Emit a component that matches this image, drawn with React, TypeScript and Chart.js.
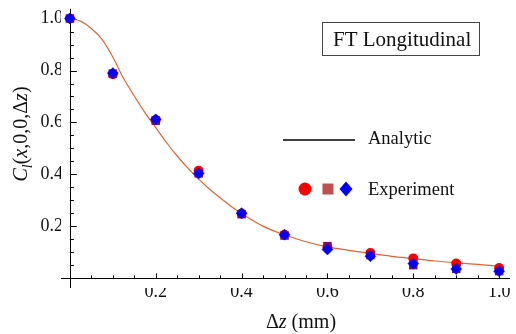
import React, { useEffect, useRef } from "react";
import { Chart, registerables } from "chart.js";

Chart.register(...registerables);

// ---- data ----
const analyticZ = [0, 0.025, 0.05, 0.075, 0.1, 0.125, 0.15, 0.175, 0.2, 0.225, 0.25, 0.275, 0.3, 0.325, 0.35, 0.375, 0.4, 0.45, 0.5, 0.55, 0.6, 0.65, 0.7, 0.75, 0.8, 0.85, 0.9, 0.95, 1.0];
const analyticC = [1.0, 0.99, 0.962, 0.92, 0.852, 0.77, 0.702, 0.638, 0.58, 0.523, 0.471, 0.424, 0.382, 0.344, 0.31, 0.278, 0.25, 0.201, 0.168, 0.141, 0.121, 0.108, 0.096, 0.085, 0.076, 0.067, 0.06, 0.054, 0.047];

const expZ = [0, 0.1, 0.2, 0.3, 0.4, 0.5, 0.6, 0.7, 0.8, 0.9, 1.0];
const expCircle = [1.0, 0.786, 0.61, 0.414, 0.25, 0.168, 0.12, 0.098, 0.077, 0.057, 0.04];
const expSquare = [1.0, 0.788, 0.607, 0.404, 0.247, 0.165, 0.124, 0.09, 0.051, 0.037, 0.028];
const expDiamond = [1.0, 0.79, 0.612, 0.404, 0.251, 0.168, 0.111, 0.085, 0.057, 0.036, 0.027];

const xTicks = [0.2, 0.4, 0.6, 0.8, 1.0];
const yTicks = [0.2, 0.4, 0.6, 0.8, 1.0];
const minorStep = 0.05;

const X_MIN = -0.0207;
const X_MAX = 1.0253;
const Y_MIN = -0.037;
const Y_MAX = 1.0375;

const SERIF = "'Liberation Serif', 'Times New Roman', serif";
const TEXT = "#111";

type Run = { t: string; italic?: boolean; sub?: boolean };

function drawRuns(ctx: CanvasRenderingContext2D, runs: Run[], size: number, cx: number, cy: number) {
  const fontFor = (r: Run) => `${r.italic ? "italic " : ""}${r.sub ? Math.round(size * 0.7) : size}px ${SERIF}`;
  let total = 0;
  const widths = runs.map((r) => {
    ctx.font = fontFor(r);
    const w = ctx.measureText(r.t).width;
    total += w;
    return w;
  });
  let x = cx - total / 2;
  ctx.textBaseline = "alphabetic";
  ctx.textAlign = "left";
  runs.forEach((r, i) => {
    ctx.font = fontFor(r);
    ctx.fillText(r.t, x, cy + (r.sub ? size * 0.25 : 0));
    x += widths[i];
  });
}

const decorPlugin = {
  id: "decor",
  beforeDatasetsDraw(chart: any) {
    const { ctx, chartArea, scales } = chart;
    const xs = scales.x;
    const ys = scales.y;
    const x0 = xs.getPixelForValue(0);
    const y0 = ys.getPixelForValue(0);
    ctx.save();
    ctx.strokeStyle = "#000";
    ctx.lineWidth = 1;
    ctx.beginPath();
    ctx.moveTo(Math.round(x0) + 0.5, chartArea.top);
    ctx.lineTo(Math.round(x0) + 0.5, chartArea.bottom);
    ctx.moveTo(chartArea.left, Math.round(y0) + 0.5);
    ctx.lineTo(chartArea.right, Math.round(y0) + 0.5);
    // ticks
    for (let i = 1; i <= 20; i++) {
      const v = i * minorStep;
      const major = i % 4 === 0;
      const py = Math.round(ys.getPixelForValue(v)) + 0.5;
      ctx.moveTo(x0, py);
      ctx.lineTo(x0 + (major ? 7 : 4), py);
      const px = Math.round(xs.getPixelForValue(v)) + 0.5;
      ctx.moveTo(px, y0);
      ctx.lineTo(px, y0 - (major ? 5 : 3));
    }
    ctx.stroke();
    ctx.restore();
  },
  afterDraw(chart: any) {
    const { ctx } = chart;
    ctx.save();
    ctx.fillStyle = TEXT;
    // y axis title (rotated)
    ctx.save();
    ctx.translate(20, 134);
    ctx.rotate(-Math.PI / 2);
    drawRuns(
      ctx,
      [
        { t: "C", italic: true },
        { t: "l", italic: true, sub: true },
        { t: "(" },
        { t: "x", italic: true },
        { t: ",0,0," },
        { t: "\u0394" },
        { t: "z", italic: true },
        { t: ")" },
      ],
      20,
      0,
      7
    );
    ctx.restore();
    // x axis title
    drawRuns(ctx, [{ t: "\u0394" }, { t: "z", italic: true }, { t: " (mm)" }], 20, 301, 328);

    // title box
    ctx.strokeStyle = "#444";
    ctx.lineWidth = 1;
    ctx.strokeRect(322.5, 22.5, 157, 33);
    ctx.font = `21px ${SERIF}`;
    ctx.textAlign = "left";
    ctx.textBaseline = "alphabetic";
    ctx.fillText("FT Longitudinal", 333, 46);

    // legend
    ctx.strokeStyle = "#000";
    ctx.lineWidth = 1.3;
    ctx.beginPath();
    ctx.moveTo(283, 140);
    ctx.lineTo(355, 140);
    ctx.stroke();
    ctx.font = `18.5px ${SERIF}`;
    ctx.fillText("Analytic", 368, 143.5);
    ctx.fillText("Experiment", 368, 194.5);

    ctx.fillStyle = "#ff0000";
    ctx.beginPath();
    ctx.arc(305, 189, 6.5, 0, Math.PI * 2);
    ctx.fill();
    ctx.fillStyle = "#c0504d";
    ctx.fillRect(322.5, 183.5, 11, 11);
    ctx.fillStyle = "#0000ff";
    ctx.beginPath();
    ctx.moveTo(346, 181.5);
    ctx.lineTo(352.5, 189);
    ctx.lineTo(346, 196.5);
    ctx.lineTo(339.5, 189);
    ctx.closePath();
    ctx.fill();
    ctx.restore();
  },
};

export default function App() {
  const ref = useRef<HTMLCanvasElement | null>(null);
  useEffect(() => {
    if (!ref.current) return;
    const chart = new Chart(ref.current, {
      type: "scatter",
      data: {
        datasets: [
          {
            type: "line",
            label: "Analytic",
            data: analyticZ.map((z, i) => ({ x: z, y: analyticC[i] })),
            borderColor: "#e8612c",
            borderWidth: 1.2,
            pointRadius: 0,
            tension: 0.4,
            cubicInterpolationMode: "monotone",
            fill: false,
            clip: false,
            order: 4,
          } as any,
          {
            label: "Exp circle",
            data: expZ.map((z, i) => ({ x: z, y: expCircle[i] })),
            pointStyle: "circle",
            pointRadius: 5,
            backgroundColor: "#ff0000",
            borderWidth: 0,
            clip: false,
            order: 3,
          },
          {
            label: "Exp square",
            data: expZ.map((z, i) => ({ x: z, y: expSquare[i] })),
            pointStyle: "rect",
            pointRadius: 6,
            backgroundColor: "#7a0a6e",
            borderWidth: 0,
            clip: false,
            order: 2,
          },
          {
            label: "Exp diamond",
            data: expZ.map((z, i) => ({ x: z, y: expDiamond[i] })),
            pointStyle: "rectRot",
            pointRadius: 5.5,
            backgroundColor: "#0000ff",
            borderColor: "#0000ff",
            borderWidth: 0.5,
            clip: false,
            order: 1,
          },
        ],
      },
      options: {
        animation: false,
        responsive: false,
        devicePixelRatio: 1,
        layout: { padding: { top: 7, right: 0, bottom: 0, left: 0 } },
        plugins: { legend: { display: false }, tooltip: { enabled: false }, title: { display: false } },
        scales: {
          x: {
            type: "linear",
            min: X_MIN,
            max: X_MAX,
            afterBuildTicks: (s: any) => {
              s.ticks = xTicks.map((v) => ({ value: v }));
            },
            afterFit: (s: any) => {
              s.height = 46;
            },
            ticks: {
              autoSkip: false,
              maxRotation: 0,
              padding: -7,
              color: TEXT,
              font: { family: SERIF, size: 18, lineHeight: 1.2 },
              callback: (v: any) => Number(v).toFixed(1),
            },
            grid: { display: false, drawTicks: false },
            border: { display: false },
          },
          y: {
            type: "linear",
            min: Y_MIN,
            max: Y_MAX,
            afterBuildTicks: (s: any) => {
              s.ticks = yTicks.map((v) => ({ value: v }));
            },
            afterFit: (s: any) => {
              s.width = 61;
            },
            ticks: {
              autoSkip: false,
              padding: -2,
              color: TEXT,
              font: { family: SERIF, size: 18 },
              callback: (v: any) => Number(v).toFixed(1),
            },
            grid: { display: false, drawTicks: false },
            border: { display: false },
          },
        },
      },
      plugins: [decorPlugin],
    });
    return () => chart.destroy();
  }, []);
  return (
    <div style={{ position: "fixed", left: 0, top: 0, width: 516, height: 334, background: "#fff" }}>
      <canvas ref={ref} width={516} height={334} style={{ display: "block", width: 516, height: 334 }} />
    </div>
  );
}
